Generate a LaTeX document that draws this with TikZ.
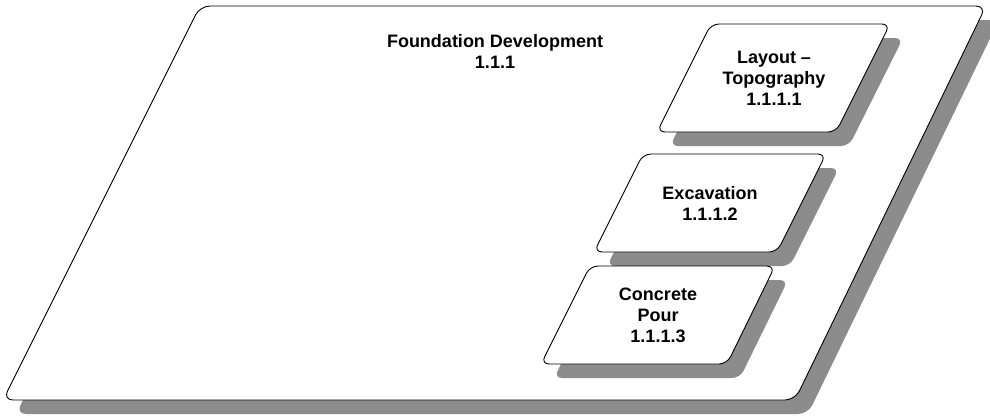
\documentclass[tikz,border=0pt]{standalone}
\usepackage{fontspec}
\setmainfont{Liberation Sans}
\definecolor{shadowgray}{RGB}{140,140,140}
\begin{document}
\begin{tikzpicture}[x=1pt,y=-1pt,
  shadowfill/.style={fill=shadowgray, draw=none, rounded corners=8pt},
  boxfill/.style={fill=white, draw=black, line width=0.9pt, rounded corners=8pt},
  lbl/.style={font=\fontsize{18}{21}\selectfont\bfseries, align=center, inner sep=0pt}]
\useasboundingbox (0,0) rectangle (990,416);
\clip (0,0) rectangle (990,416);
% big parallelogram
\fill[shadowfill, rounded corners=10pt] (213,20) -- (999,20) -- (808,414) -- (16,414) -- cycle;
\draw[boxfill, rounded corners=10pt] (200,6) -- (986,6) -- (795,400) -- (3,400) -- cycle;
\node[lbl] (found) at (495,51) {Foundation Development\\1.1.1};
% Layout
\fill[shadowfill] (724,38) -- (903,38) -- (849,146) -- (670,146) -- cycle;
\draw[boxfill] (711,24) -- (890,24) -- (836,132) -- (657,132) -- cycle;
\node[lbl] (layout) at (774,78) {Layout \textendash\\Topography\\1.1.1.1};
% Excavation
\fill[shadowfill] (656,168) -- (839,168) -- (790,266) -- (607,266) -- cycle;
\draw[boxfill] (643,154) -- (826,154) -- (777,252) -- (594,252) -- cycle;
\node[lbl] (exc) at (710,203) {Excavation\\1.1.1.2};
% Concrete
\fill[shadowfill] (603,280) -- (788,280) -- (740,378) -- (554,378) -- cycle;
\draw[boxfill] (590,266) -- (775,266) -- (727,364) -- (541,364) -- cycle;
\node[lbl] (conc) at (658,315) {Concrete\\Pour\\1.1.1.3};
\end{tikzpicture}
\end{document}
